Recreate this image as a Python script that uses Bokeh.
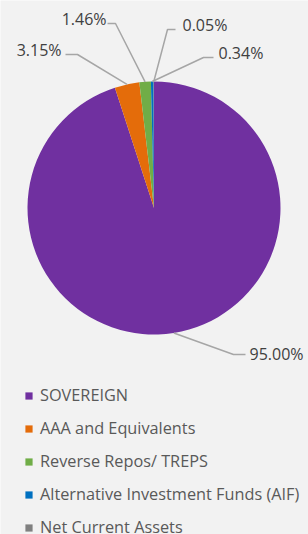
import numpy as np
from bokeh.plotting import figure
from bokeh.models import Range1d, Legend, LegendItem
from bokeh.core.properties import value
from bokeh.embed import file_html
from bokeh.resources import INLINE

# ---- data ----
categories = ["SOVEREIGN", "AAA and Equivalents", "Reverse Repos/ TREPS",
              "Alternative Investment Funds (AIF)", "Net Current Assets"]
shares = [95.00, 3.15, 1.46, 0.34, 0.05]
share_labels = ["95.00%", "3.15%", "1.46%", "0.34%", "0.05%"]
colors = ["#7030A0", "#E46C0A", "#70AD47", "#0070C0", "#808080"]

# ---- layout (picture pixel coords, y down) ----
W, H = 308, 534
def py(y):  # picture y -> data y
    return H - y

cx, cy, r = 153.5, 207.5, 126.5
elbow = [(233, 354), (77, 54), (115, 23), (203, 57), (167, 29)]
lend = [(245, 354), (65, 54), (107, 23), (213, 57), (175, 29)]
tpos = [(249, 353), (61, 49), (106, 18), (218, 52), (182, 24)]
talign = ["left", "right", "right", "left", "left"]

p = figure(width=W, height=H, output_backend="svg", toolbar_location=None,
           x_range=Range1d(0, W), y_range=Range1d(0, H),
           min_border=0, background_fill_color="#F2F2F2",
           border_fill_color="#F2F2F2", outline_line_color=None)
p.axis.visible = False
p.grid.visible = False

fr = np.array(shares) / sum(shares)
cum = np.concatenate([[0], np.cumsum(fr)])
theta0 = cum[:-1] * 2 * np.pi  # clockwise from top
theta1 = cum[1:] * 2 * np.pi
mid = (theta0 + theta1) / 2

renderers = []
for i in range(len(categories)):
    rr = p.wedge(x=cx, y=py(cy), radius=r, start_angle=np.pi / 2 - theta0[i],
                 end_angle=np.pi / 2 - theta1[i], direction="clock",
                 fill_color=colors[i], line_color=None)
    renderers.append(rr)

xs, ys = [], []
for i in range(len(categories)):
    ex = cx + r * np.sin(mid[i])
    ey = cy - r * np.cos(mid[i])
    xs.append([ex, elbow[i][0], lend[i][0]])
    ys.append([py(ey), py(elbow[i][1]), py(lend[i][1])])
p.multi_line(xs, ys, line_color="#A6A6A6", line_width=1.5)

for i in range(len(categories)):
    p.text(x=[tpos[i][0]], y=[py(tpos[i][1])], text=[share_labels[i]],
           text_font=value("Open Sans"), text_font_size="16px",
           text_color="#404040", text_align=talign[i], text_baseline="middle")

legend = Legend(items=[LegendItem(label=c, renderers=[renderers[i]])
                       for i, c in enumerate(categories)],
                location=(24, -4), orientation="vertical",
                glyph_width=9, glyph_height=9, label_height=20,
                spacing=11, padding=0, margin=0, label_standoff=7,
                label_text_font="Open Sans", label_text_font_size="16.3px",
                label_text_color="#595959", border_line_color=None,
                background_fill_alpha=0)
p.add_layout(legend, "center")

open("out.html", "w").write(file_html(p, INLINE))
